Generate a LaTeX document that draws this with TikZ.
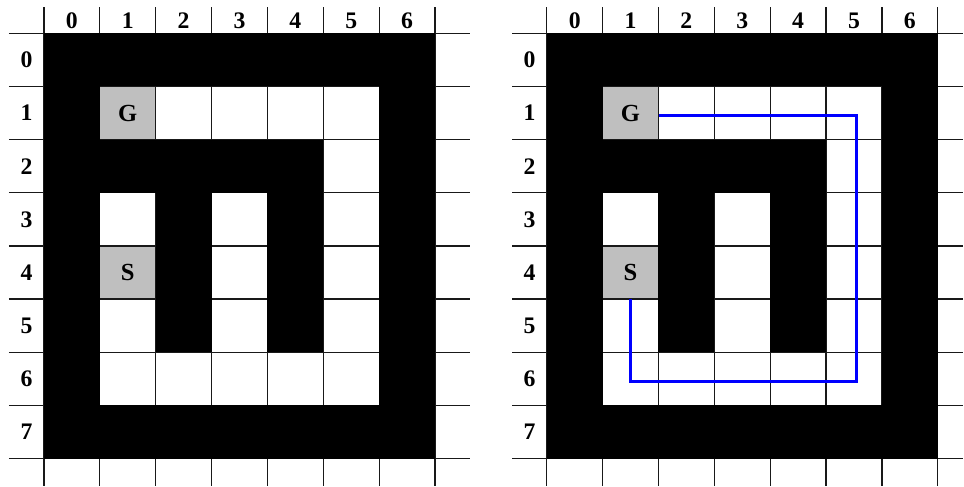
\documentclass[tikz,border=0pt]{standalone}
\usepackage{fontspec}
\setmainfont{Liberation Serif}
\usetikzlibrary{positioning}

\begin{document}
\begin{tikzpicture}[
    x=1.118cm, y=-1.064cm,
    gridline/.style={draw=black!90, line width=0.7pt},
    wall/.style={fill=black},
    endcell/.style={fill=black!25, minimum width=1.118cm, minimum height=1.064cm, inner sep=0pt, font=\fontsize{14}{14}\selectfont\bfseries},
    numlabel/.style={inner sep=0pt, font=\fontsize{13.5}{13.5}\selectfont\bfseries},
    route/.style={draw=blue, line width=1.7pt},
]
% page
\fill[white] (-0.787,-0.626) rectangle (16.458,8.51);

% two copies of the maze
\foreach \ox/\xa/\xb in {0/-0.626/7.62, 9/8.385/16.458}{
  % start and goal cells
  \node[endcell] (G\ox) at (\ox+1.5,1.5) {G};
  \node[endcell] (S\ox) at (\ox+1.5,4.5) {S};
  % grid
  \foreach \r in {0,...,8}
    \draw[gridline] (\xa,\r) -- (\xb,\r);
  \foreach \c in {0,...,7}
    \draw[gridline] (\ox+\c,-0.494) -- (\ox+\c,8.51);
  % walls
  \foreach \ca/\ra/\cb/\rb in {0/0/7/1, 0/7/7/8, 0/0/1/8, 6/0/7/8, 1/2/5/3, 2/3/3/6, 4/3/5/6}
    \fill[wall] (\ox+\ca,\ra) rectangle (\ox+\cb,\rb);
  % column and row numbers
  \foreach \c in {0,...,6}
    \node[numlabel] (col\ox-\c) at (\ox+\c+0.5,-0.24) {\c};
  \foreach \r in {0,...,7}
    \node[numlabel] (row\ox-\r) at (\ox-0.31,\r+0.5) {\r};
}

% path from S to G
\coordinate (turnA) at (10.5,6.55);
\coordinate (turnB) at (14.55,6.55);
\coordinate (turnC) at (14.55,1.55);
\draw[route] (S9.south) -- (turnA) -- (turnB) -- (turnC) -- (G9.east |- turnC);
\end{tikzpicture}
\end{document}
